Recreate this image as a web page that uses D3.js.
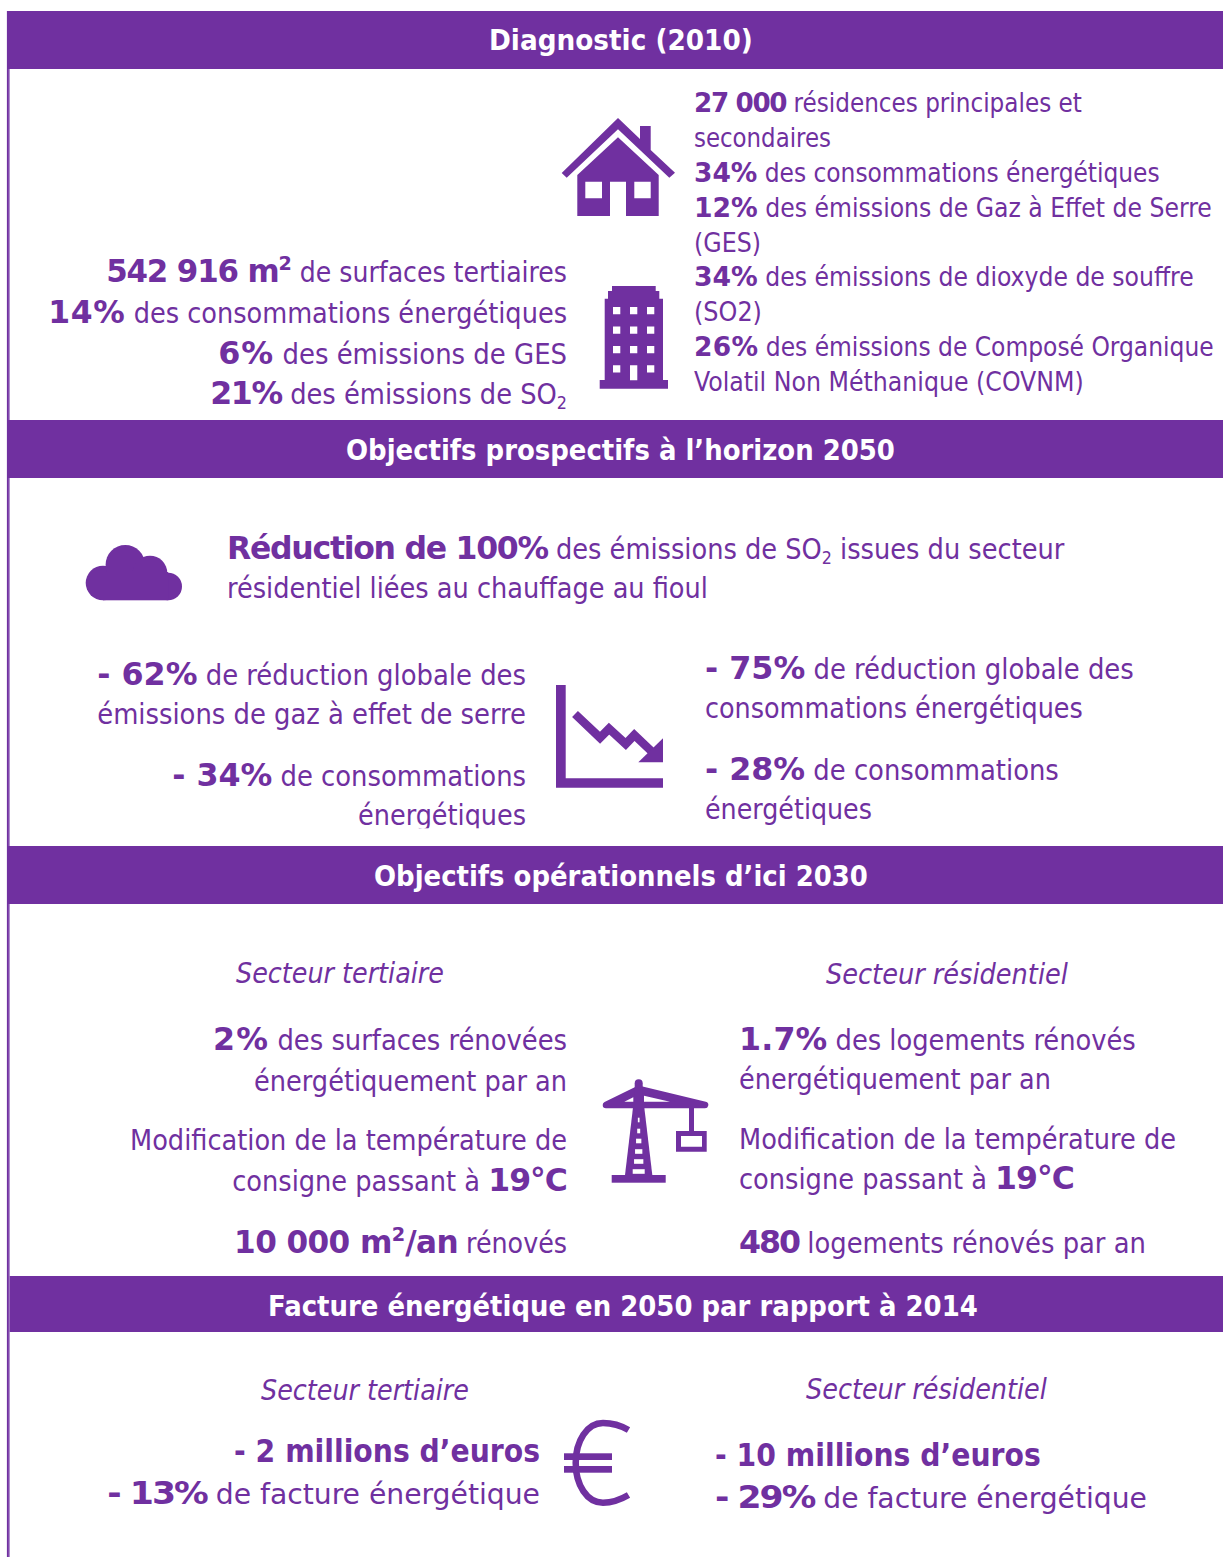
<!DOCTYPE html>
<html>
<head>
<meta charset="utf-8">
<script src="https://cdn.jsdelivr.net/npm/d3@7"></script>
<style>
  html, body { margin: 0; padding: 0; background: #fff; }
  svg { display: block; }
  text { font-family: "DejaVu Sans Condensed", "DejaVu Sans", sans-serif; fill: #7030a0; }
  .wide { font-family: "DejaVu Sans", sans-serif; font-weight: bold; }
</style>
</head>
<body>
<div id="infographic"></div>
<script>
var purple = "#7030a0";

// Section titles
var headerLabels = [
  "Diagnostic (2010)",
  "Objectifs prospectifs à l’horizon 2050",
  "Objectifs opérationnels d’ici 2030",
  "Facture énergétique en 2050 par rapport à 2014"
];

// Text content: b = bold, r = regular, sup / sub = small raised / lowered
var diagTertiaire = [
  [["b", "542 916 m"], ["sup", "2"], ["r", " de surfaces tertiaires"]],
  [["b", "14%"], ["r", " des consommations énergétiques"]],
  [["b", "6%"], ["r", " des émissions de GES"]],
  [["b", "21%"], ["r", " des émissions de SO"], ["sub", "2"]]
];
var diagResidentiel = [
  [["b", "27 000"], ["r", " résidences principales et"]],
  [["r", "secondaires"]],
  [["b", "34%"], ["r", " des consommations énergétiques"]],
  [["b", "12%"], ["r", " des émissions de Gaz à Effet de Serre"]],
  [["r", "(GES)"]],
  [["b", "34%"], ["r", " des émissions de dioxyde de souffre"]],
  [["r", "(SO2)"]],
  [["b", "26%"], ["r", " des émissions de Composé Organique"]],
  [["r", "Volatil Non Méthanique (COVNM)"]]
];
var objReduction = [
  [["b", "Réduction de 100%"], ["r", " des émissions de SO"], ["sub", "2"], ["r", " issues du secteur"]],
  [["r", "résidentiel liées au chauffage au fioul"]]
];
var objGauche = [
  [["b", "- 62%"], ["r", " de réduction globale des"]],
  [["r", "émissions de gaz à effet de serre"]],
  [["b", "- 34%"], ["r", " de consommations"]],
  [["r", "énergétiques"]]
];
var objDroite = [
  [["b", "- 75%"], ["r", " de réduction globale des"]],
  [["r", "consommations énergétiques"]],
  [["b", "- 28%"], ["r", " de consommations"]],
  [["r", "énergétiques"]]
];
var opTertiaire = [
  [["b", "2%"], ["r", " des surfaces rénovées"]],
  [["r", "énergétiquement par an"]],
  [["r", "Modification de la température de"]],
  [["r", "consigne passant à "], ["b", "19°C"]],
  [["b", "10 000 m"], ["sup", "2"], ["b", "/an"], ["r", " rénovés"]]
];
var opResidentiel = [
  [["b", "1.7%"], ["r", " des logements rénovés"]],
  [["r", "énergétiquement par an"]],
  [["r", "Modification de la température de"]],
  [["r", "consigne passant à "], ["b", "19°C"]],
  [["b", "480"], ["r", " logements rénovés par an"]]
];
var factTertiaire = [
  [["b", "- 2 millions d’euros"]],
  [["b", "- 13%"], ["r", " de facture énergétique"]]
];
var factResidentiel = [
  [["b", "- 10 millions d’euros"]],
  [["b", "- 29%"], ["r", " de facture énergétique"]]
];
var secteurLabels = ["Secteur tertiaire", "Secteur résidentiel"];

// Layout of the sections, kept apart from the text
var headerTop = [11, 420, 846, 1276];
var headerBottom = [69, 478, 904, 1332];
var headerLeft = [7.5, 7.5, 8, 9.7];
var headerBaseline = [50, 460, 886, 1316];
var headerSpan = [[489, 753], [346, 895], [374, 868], [268, 978]];

// each block: anchor x, baselines, other edge of every line (from the picture),
// track = letter spacing of the bold run of each line
var blocks = [
  { lines: diagTertiaire, x: 567, anchor: "end", size: 29, bold: 32, y: [282, 323, 364, 404], edge: [106, 48, 218, 210], track: [-1.2, 0.7, 1, -1.3] },
  { lines: diagResidentiel, x: 694, anchor: "start", size: 26.5, bold: 27, y: [112, 147, 182, 217, 252, 286, 321, 356, 391], edge: [1082, 831, 1160, 1212, 761, 1194, 762, 1214, 1084], track: [-1.4, 0, 0, 0, 0, 0, 0, 0.3, 0] },
  { lines: objReduction, x: 227, anchor: "start", size: 29, bold: 32, y: [559, 598], edge: [1065, 708], track: [-1.3, 0] },
  { lines: objGauche, x: 526, anchor: "end", size: 29, bold: 32, y: [685, 724, 786, 825], edge: [97, 97, 172, 358], track: [0, 0, 0, 0] },
  { lines: objDroite, x: 705, anchor: "start", size: 29, bold: 32, y: [679, 718, 780, 819], edge: [1134, 1083, 1059, 872], track: [0, 0, 0, 0] },
  { lines: opTertiaire, x: 567, anchor: "end", size: 29, bold: 32, y: [1050, 1091, 1150, 1191, 1253], edge: [213, 254, 130, 232, 234], track: [1.2, 0, 0, -1, -0.6] },
  { lines: opResidentiel, x: 739, anchor: "start", size: 29, bold: 32, y: [1050, 1089, 1149, 1189, 1253], edge: [1136, 1051, 1176, 1074, 1146], track: [0.2, 0, 0, -1, -2] },
  { lines: factTertiaire, x: 540, anchor: "end", size: 29, bold: 32, y: [1462, 1504], edge: [234, 107], track: [0, -1.8] },
  { lines: factResidentiel, x: 715, anchor: "start", size: 29, bold: 32, y: [1466, 1508], edge: [1041, 1147], track: [0, -1.8] }
];

// italic labels: [label index, left, right, baseline]
var secteurPlaces = [
  [0, 236, 444, 983],
  [1, 826, 1068, 984],
  [0, 261, 469, 1400],
  [1, 806, 1047, 1399]
];

var svg = d3.select("#infographic")
  .append("svg")
  .attr("width", 1223)
  .attr("height", 1557)
  .attr("viewBox", "0 0 1223 1557");

// left rule, dark with a paler right edge in the source
svg.append("rect")
  .attr("x", 8.3).attr("y", 11)
  .attr("width", 1.4).attr("height", 1546)
  .attr("fill", "#8f5fb8");
svg.append("rect")
  .attr("x", 6.9).attr("y", 11)
  .attr("width", 1.8).attr("height", 1546)
  .attr("fill", purple);

// stretch a text so its ink runs up to the edge
function fit(textSel, width) {
  var natural = textSel.node().getComputedTextLength();
  return width / natural;
}

// header bars
headerLabels.forEach(function(label, i) {
  svg.append("rect")
    .attr("x", headerLeft[i])
    .attr("y", headerTop[i])
    .attr("width", 1223 - headerLeft[i])
    .attr("height", headerBottom[i] - headerTop[i])
    .attr("fill", purple);

  var t = svg.append("text")
    .attr("class", "wide")
    .style("fill", "#fff")
    .style("font-size", "29px")
    .text(label);
  var s = fit(t, headerSpan[i][1] - headerSpan[i][0]);
  t.attr("transform", "translate(" + headerSpan[i][0] + "," + headerBaseline[i] + ") scale(" + s + ",1)");
});

// text blocks
blocks.forEach(function(block) {
  block.lines.forEach(function(segments, i) {
    var t = svg.append("text")
      .attr("text-anchor", block.anchor)
      .style("font-size", block.size + "px");

    var shift = 0;
    segments.forEach(function(seg) {
      var kind = seg[0];
      var span = t.append("tspan").style("white-space", "pre").text(seg[1]);
      var target = kind === "sup" ? -0.38 * block.bold : kind === "sub" ? 0.16 * block.size : 0;
      span.attr("dy", target - shift);
      shift = target;
      if (kind === "b") {
        span.attr("class", "wide")
          .style("font-size", block.bold + "px")
          .style("letter-spacing", block.track[i] + "px");
      } else if (kind === "sup") {
        span.attr("class", "wide").style("font-size", block.bold * 0.62 + "px");
      } else if (kind === "sub") {
        span.style("font-size", block.size * 0.62 + "px");
      }
    });

    var width = Math.abs(block.edge[i] - block.x);
    var s = fit(t, width);
    t.attr("transform", "translate(" + block.x + "," + block.y[i] + ") scale(" + s + ",1)");
  });
});

// the source cuts the descenders of this line
svg.append("rect")
  .attr("x", 340)
  .attr("y", 828.3)
  .attr("width", 200)
  .attr("height", 17.7)
  .attr("fill", "#fff");

// italic sector labels
svg.selectAll("text.secteur")
  .data(secteurPlaces)
  .enter()
  .append("text")
  .attr("class", "secteur")
  .style("font-style", "italic")
  .style("font-size", "28px")
  .text(function(d) { return secteurLabels[d[0]]; })
  .attr("transform", function(d) {
    var s = (d[2] - d[1]) / this.getComputedTextLength();
    return "translate(" + d[1] + "," + d[3] + ") scale(" + s + ",1)";
  });

// icons
var icons = svg.append("g").attr("fill", purple);

// house
icons.append("path")
  .attr("fill-rule", "evenodd")
  .attr("d", "M618,118 L640,139 L640,126 L650.7,126 L650.7,150 L675,172.7 L669.3,177.7 L618,129.3 L566.7,177.7 L561.7,173 Z"
    + " M618,137.3 L658.7,175 L658.7,216 L626,216 L626,181.7 L610,181.7 L610,216 L577.3,216 L577.3,175 Z"
    + " M585.3,181.7 L602,181.7 L602,198.3 L585.3,198.3 Z"
    + " M634.3,181.7 L650.7,181.7 L650.7,198.3 L634.3,198.3 Z");

// office building
var winX = [613, 630, 647];
var winY = [307, 326.5, 346, 365.3];
var building = "M612,286 L655.7,286 L655.7,291 L659.3,291 L659.3,298.7 L663,298.7 L663,380 L668,380 L668,388.7 L599.7,388.7 L599.7,380 L604.7,380 L604.7,298.7 L608,298.7 L608,291 L612,291 Z";
winY.forEach(function(wy, r) {
  winX.forEach(function(wx, c) {
    var h = (r === 3 && c === 1) ? 15 : 7.3;
    building += " M" + wx + "," + wy + " h7.3 v" + h + " h-7.3 Z";
  });
});
icons.append("path").attr("fill-rule", "evenodd").attr("d", building);

// cloud
var cloud = [[103, 583, 17.3], [125.3, 564.7, 19.7], [150, 573, 17.3], [168.2, 586.5, 13.8]];
icons.selectAll("circle.cloud").data(cloud).enter().append("circle")
  .attr("class", "cloud")
  .attr("cx", function(d) { return d[0]; })
  .attr("cy", function(d) { return d[1]; })
  .attr("r", function(d) { return d[2]; });
icons.append("rect").attr("x", 103).attr("y", 572).attr("width", 65.2).attr("height", 28.3);

// falling graph
icons.append("path").attr("d", "M556,685 L565.7,685 L565.7,778.3 L663,778.3 L663,787.7 L556,787.7 Z");
icons.append("path")
  .attr("fill", "none")
  .attr("stroke", purple)
  .attr("stroke-width", 8.5)
  .attr("d", "M575,714 L600,737.7 L609,728.7 L625.7,744 L634.3,735 L653.3,753");
icons.append("path").attr("d", "M663,738.3 L663,762.3 L638.3,762.3 Z");

// crane
icons.append("path")
  .attr("stroke", purple)
  .attr("stroke-width", 6.6)
  .attr("stroke-linejoin", "round")
  .attr("d", "M606,1105 L638.7,1089 L705,1105 Z");
icons.append("path")
  .attr("fill", "none")
  .attr("stroke", purple)
  .attr("stroke-width", 8)
  .attr("stroke-linecap", "round")
  .attr("d", "M638.7,1083.3 L638.7,1105");
icons.append("path").attr("fill", "#fff").attr("d", "M624.3,1101.7 L633.3,1101.7 L633.3,1097.3 Z M644,1095.7 L644,1101.7 L670,1101.7 Z");
icons.append("path").attr("d", "M633.3,1105 L644,1105 L652.3,1175 L625,1175 Z");
icons.append("rect").attr("x", 611.7).attr("y", 1175).attr("width", 54).attr("height", 7.7);
icons.append("rect").attr("x", 689).attr("y", 1108).attr("width", 5).attr("height", 24);
icons.append("path").attr("fill-rule", "evenodd")
  .attr("d", "M676,1131 h30.7 v20.7 h-30.7 Z M681,1136 v10.7 h21 v-10.7 Z");
var rungs = [[1120, 1.7], [1131, 3], [1141, 5.3], [1151.5, 7.3], [1161.5, 9.3], [1171.5, 12]];
icons.selectAll("rect.rung").data(rungs).enter().append("rect")
  .attr("class", "rung")
  .attr("fill", "#fff")
  .attr("x", function(d) { return 638.7 - d[1] / 2; })
  .attr("y", function(d) { return d[0] - 2.3; })
  .attr("width", function(d) { return d[1]; })
  .attr("height", 4.6);

// euro
icons.append("path")
  .attr("fill", "none")
  .attr("stroke", purple)
  .attr("stroke-width", 6.5)
  .attr("d", "M628.5,1430 C620,1425 611,1423 603,1423 C587,1423 575.7,1441 575.7,1463 C575.7,1485 587,1502.7 603,1502.7 C611,1502.7 620,1500 628.5,1495");
icons.append("rect").attr("x", 564).attr("y", 1453.3).attr("width", 48).attr("height", 6.7);
icons.append("rect").attr("x", 564).attr("y", 1466).attr("width", 48).attr("height", 6.7);
</script>
</body>
</html>
